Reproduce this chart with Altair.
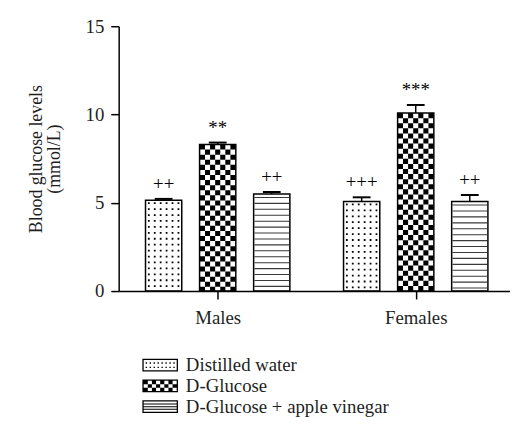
import altair as alt
import pandas as pd

# ---------------- data ----------------
groups = ["Males", "Females"]
series = ["Distilled water", "D-Glucose", "D-Glucose + apple vinegar"]
males_mean = [5.14, 8.30, 5.50]
males_err = [0.08, 0.11, 0.11]
females_mean = [5.07, 10.08, 5.07]
females_err = [0.24, 0.46, 0.37]
males_sig = ["++", "**", "++"]
females_sig = ["+++", "***", "++"]
y_ticks = [0, 5, 10, 15]

# ---------------- layout / style ----------------
FONT = "Liberation Serif"
INK = "#1e1e1e"
FS = 19
W, H = 396, 268
PX_PER_GROUP = 200.4
SLOT = 0.273      # bar spacing within a group (group units)
HALF = 0.0915     # half bar width (group units)
x_domain = [0.5, 0.5 + W / PX_PER_GROUP]

rows = []
for gi, (g, means, errs, sigs) in enumerate(
        [("Males", males_mean, males_err, males_sig),
         ("Females", females_mean, females_err, females_sig)]):
    for si, s in enumerate(series):
        rows.append(dict(group=g, series=s, value=means[si], err=errs[si],
                         sig=sigs[si], gi=gi + 1, si=si))
df = pd.DataFrame(rows)
df["xc"] = df.gi + (df.si - 1) * SLOT
df["x0"] = df.xc - HALF
df["x1"] = df.xc + HALF
df["top"] = df.value + df.err
df["zero"] = 0.0

xscale = alt.Scale(domain=x_domain, nice=False, zero=False)
yscale = alt.Scale(domain=[0, 15], nice=False)

label_expr = " : ".join(
    [f"datum.value == {i + 1} ? '{g}'" for i, g in enumerate(groups[:-1])] + [f"'{groups[-1]}'"])

xaxis = alt.Axis(values=[1, 2], labelExpr=label_expr, grid=False, domainColor="black",
                 domainWidth=1.5, tickColor="black", tickWidth=1.5, tickSize=8,
                 labelFont=FONT, labelFontSize=FS, labelColor=INK, labelPadding=10,
                 labelFlush=False)
yaxis = alt.Axis(values=y_ticks, grid=False, domainColor="black", domainWidth=1.5,
                 tickColor="black", tickWidth=1.5, tickSize=8, labelFont=FONT,
                 labelFontSize=FS, labelColor=INK, labelPadding=7,
                 titleFont=FONT, titleFontSize=18, titleFontWeight="normal",
                 titleColor=INK, titlePadding=22, titleLineHeight=18)
ytitle = ["Blood glucose levels", "(mmol/L)"]


def X(field):
    return alt.X(field, type="quantitative", scale=xscale, axis=xaxis, title=None)


def Y(field):
    return alt.Y(field, type="quantitative", scale=yscale, axis=yaxis, title=ytitle)


base = alt.Chart(df)

layers = []

# dotted pattern (Distilled water)
dots = base.transform_filter(alt.datum.series == series[0])
for off in [-15, -9, -3, 3, 9, 15]:
    layers.append(dots.mark_rule(xOffset=off, strokeWidth=1.8, strokeDash=[1.8, 4.2],
                                 strokeDashOffset=-2, color="black").encode(
        x=X("xc"), y=Y("value"), y2="zero"))

# checkerboard pattern (D-Glucose)
chk = base.transform_filter(alt.datum.series == series[1])
cell = 36 / 7
for k in range(7):
    layers.append(chk.mark_rule(xOffset=(k - 3) * cell, strokeWidth=cell,
                                strokeDash=[cell, cell],
                                strokeDashOffset=(cell if k % 2 else 0),
                                color="black").encode(
        x=X("xc"), y=Y("value"), y2="zero"))

# striped pattern (D-Glucose + apple vinegar)
stp = base.transform_filter(alt.datum.series == series[2])
layers.append(stp.mark_rule(strokeWidth=35, strokeDash=[1.1, 4.9], strokeDashOffset=-3,
                            color="#3a3a3a").encode(
    x=X("xc"), y=Y("value"), y2="zero"))

# bar outlines
layers.append(base.mark_rect(fillOpacity=0, stroke="black", strokeWidth=1.5).encode(
    x=X("x0"), x2="x1", y=Y("value"), y2="zero"))

# error bars
layers.append(base.mark_rule(color="black", strokeWidth=1.5).encode(
    x=X("xc"), y=Y("value"), y2="top"))
layers.append(base.mark_tick(orient="horizontal", size=18, thickness=2, color="black",
                             opacity=1).encode(x=X("xc"), y=Y("top")))

# significance marks
layers.append(base.mark_text(font=FONT, fontSize=FS, fill="black", baseline="bottom",
                             dy=-5).encode(x=X("xc"), y=Y("top"), text="sig:N"))


# legend swatches as custom symbol paths
def f(v):
    s = f"{v:.3f}"
    return s.rstrip("0").rstrip(".") if "." in s else s


def rect_path(x0, y0, x1, y1, ccw=False):
    if ccw:
        return f"M{f(x0)},{f(y0)}L{f(x0)},{f(y1)}L{f(x1)},{f(y1)}L{f(x1)},{f(y0)}Z"
    return f"M{f(x0)},{f(y0)}L{f(x1)},{f(y0)}L{f(x1)},{f(y1)}L{f(x0)},{f(y1)}Z"


HW, HH, T = 1.8, 0.65, 0.13
IW, IH = HW - T, HH - T
frame = rect_path(-HW, -HH, HW, HH) + rect_path(-IW, -IH, IW, IH, ccw=True)

dot_path = frame
for cx in [-1.4 + 0.4 * k for k in range(8)]:
    for cy in [-0.22, 0.22]:
        dot_path += rect_path(cx - 0.07, cy - 0.07, cx + 0.07, cy + 0.07)

chk_path = frame
cw, ch = 2 * IW / 8, 2 * IH / 3
for c in range(8):
    for r in range(3):
        if (c + r) % 2 == 0:
            chk_path += rect_path(-IW + c * cw, -IH + r * ch, -IW + (c + 1) * cw, -IH + (r + 1) * ch)

stp_path = frame
for cy in [-0.27, 0.0, 0.27]:
    stp_path += rect_path(-IW, cy - 0.05, IW, cy + 0.05)

legend = alt.Legend(orient="none", legendX=32, legendY=333, title=None, symbolSize=400,
                    symbolStrokeWidth=0, symbolFillColor="black", symbolOpacity=1,
                    labelFont=FONT, labelFontSize=FS, labelColor=INK, labelOffset=16,
                    rowPadding=1, padding=0, labelLimit=400)

layers.append(base.mark_point(filled=True, color="black", opacity=0).encode(
    x=X("xc"), y=Y("zero"),
    shape=alt.Shape("series:N", scale=alt.Scale(domain=series,
                                                range=[dot_path, chk_path, stp_path]),
                    legend=legend)))

chart = alt.layer(*layers).properties(
    width=W, height=H,
    autosize=alt.AutoSizeParams(type="none"),
    padding={"left": 112, "top": 16, "right": 0, "bottom": 125},
).configure_view(stroke=None)

chart.save("out.html", embed_options={"renderer": "svg", "actions": False})
